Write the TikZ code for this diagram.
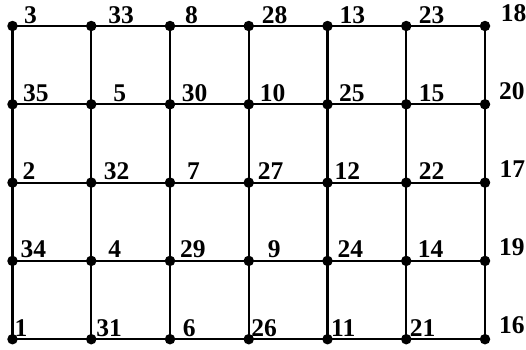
\documentclass[tikz,border=0pt]{standalone}
\usepackage{fontspec}
\setmainfont{Liberation Serif}
\usetikzlibrary{positioning}

\begin{document}
\begin{tikzpicture}[
    x=1pt, y=1pt,
    dot/.style={circle, fill=black, inner sep=0pt, minimum size=10.5pt},
    edge/.style={line width=2.1pt},
    num/.style={anchor=base west, inner sep=0pt, font=\bfseries\fontsize{25.5}{25.5}\selectfont}
]
\useasboundingbox (0,0) rectangle (526,-349);

% grid points
\foreach \c in {0,...,6}
  \foreach \r in {0,...,4}
    \node[dot] (d\c-\r) at (12.5+78.75*\c, -26-78.3*\r) {};

% horizontal and vertical links
\foreach \c [count=\cc] in {0,...,5}
  \foreach \r in {0,...,4}
    \draw[edge] (d\c-\r.center) -- (d\cc-\r.center);
\foreach \c in {0,...,6}
  \foreach \r [count=\rr] in {0,...,3}
    \draw[edge] (d\c-\r.center) -- (d\c-\rr.center);

% numbers
\foreach \lab/\c/\r/\dx/\dy in {
    3/0/0/11.5/3, 33/1/0/17/3, 8/2/0/15/3, 28/3/0/13/3, 13/4/0/11.8/3, 23/5/0/12.4/3, 18/6/0/15.7/5,
    35/0/1/10.5/3, 5/1/1/22/3, 30/2/1/11.7/3, 10/3/1/11/3, 25/4/1/11.5/3, 15/5/1/12.5/3, 20/6/1/14/5,
    2/0/2/10/3.5, 32/1/2/12.5/3.5, 7/2/2/17/3.5, 27/3/2/9/3.5, 12/4/2/7/3.5, 22/5/2/12.5/3.5, 17/6/2/14.5/5,
    34/0/3/8/3, 4/1/3/17/3, 29/2/3/10/3, 9/3/3/19/3, 24/4/3/10/3, 14/5/3/11.5/3, 19/6/3/14/5,
    1/0/4/2/2.5, 31/1/4/5/2.5, 6/2/4/12.7/2.5, 26/3/4/2.5/2.5, 11/4/4/3.5/2.5, 21/5/4/3.5/2.5, 16/6/4/14/6}
  \node[num, xshift=\dx pt, yshift=\dy pt] (n\lab) at (d\c-\r.center) {\lab};
\end{tikzpicture}
\end{document}
